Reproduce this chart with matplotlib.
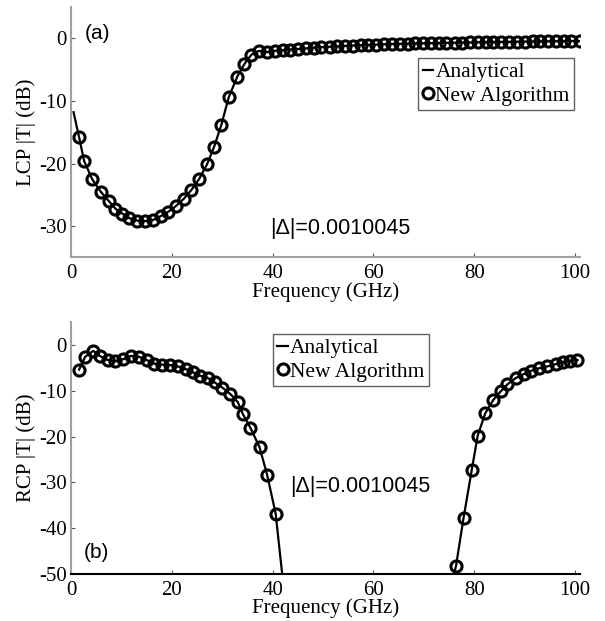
import matplotlib.pyplot as plt
import numpy as np

plt.rcParams['axes.unicode_minus'] = False

# (a) LCP |T| : marker positions (GHz) and values (dB)
lcp_f = [1.6, 2.6, 4.2, 5.9, 7.5, 8.8, 10.2, 11.5, 13.0, 14.7, 16.3, 17.8,
         19.3, 20.8, 22.4, 23.9, 25.4, 27.0, 28.4, 29.8, 31.3, 33.0, 34.4,
         35.8, 37.3, 38.9, 40.4, 42.0, 43.5, 45.1, 46.6, 48.2, 49.7, 51.3,
         52.8, 54.4, 55.9, 57.5, 59.0, 60.6, 62.1, 63.7, 65.2, 66.8, 68.3,
         69.9, 71.4, 73.0, 74.5, 76.1, 77.6, 79.2, 80.7, 82.3, 83.8, 85.4,
         86.9, 88.5, 90.0, 91.6, 93.1, 94.7, 96.2, 97.8, 99.3, 100.9]
lcp_db = [-15.8, -19.6, -22.5, -24.5, -26.0, -27.2, -28.0, -28.7, -29.1,
          -29.2, -29.0, -28.4, -27.7, -26.8, -25.6, -24.2, -22.5, -20.1,
          -17.3, -13.9, -9.4, -6.1, -4.1, -2.6, -2.0, -2.2, -2.0, -1.9, -1.8,
          -1.7, -1.6, -1.5, -1.4, -1.35, -1.3, -1.2, -1.15, -1.1, -1.05, -1.0,
          -0.95, -0.9, -0.88, -0.85, -0.82, -0.8, -0.77, -0.75, -0.72, -0.7,
          -0.68, -0.66, -0.64, -0.62, -0.6, -0.58, -0.56, -0.54, -0.52, -0.5,
          -0.48, -0.47, -0.46, -0.45, -0.44, -0.43]
lcp_line_f = [0.5] + lcp_f
lcp_line_db = [-11.8] + lcp_db

# (b) RCP |T| : two visible branches
rcp_f1 = [1.6, 2.8, 4.4, 5.7, 7.3, 8.7, 10.4, 11.9, 13.5, 15.0, 16.5, 18.0,
          19.6, 21.2, 22.8, 24.2, 25.5, 27.1, 28.5, 30.0, 31.6, 33.1, 34.1,
          35.6, 37.4, 38.9, 40.6]
rcp_db1 = [-5.4, -2.6, -1.3, -2.4, -3.3, -3.6, -3.1, -2.4, -2.6, -3.3, -4.1,
           -4.3, -4.4, -4.7, -5.3, -6.0, -6.7, -7.2, -8.2, -9.3, -10.7, -12.5,
           -15.1, -18.1, -22.3, -28.3, -36.8]
rcp_f2 = [76.4, 77.9, 79.5, 80.7, 82.2, 83.8, 85.3, 86.6, 88.3, 89.8, 91.2,
          92.9, 94.5, 96.2, 97.6, 99.1, 100.5]
rcp_db2 = [-48.2, -37.7, -27.4, -19.8, -14.9, -12.0, -10.1, -8.6, -7.2, -6.4,
           -5.7, -5.1, -4.7, -4.2, -3.8, -3.5, -3.3]
rcp_line_f = rcp_f1 + [41.9, np.nan, 76.0] + rcp_f2
rcp_line_db = rcp_db1 + [-50.0, np.nan, -50.0] + rcp_db2

serif = 'Liberation Serif'
sans = 'Liberation Sans'
gray = '#a0a0a0'

fig = plt.figure(figsize=(6.05, 6.21), dpi=100)
ax1 = fig.add_axes([0.1174, 0.5854, 0.8413, 0.4033])
ax2 = fig.add_axes([0.1174, 0.0757, 0.8413, 0.4058])


def style(ax, ylim, yticks, ylabel, bottom_color):
    ax.set_xlim(0, 101)
    ax.set_ylim(*ylim)
    ax.set_xticks([0, 20, 40, 60, 80, 100])
    ax.set_yticks(yticks)
    for s in ['top', 'right']:
        ax.spines[s].set_visible(False)
    ax.spines['left'].set_color(gray)
    ax.spines['bottom'].set_color(bottom_color)
    ax.spines['left'].set_linewidth(1.5)
    ax.spines['bottom'].set_linewidth(1.5)
    ax.tick_params(direction='in', length=3, width=0.8, color='#555555',
                   pad=3, labelsize=15)
    ax.tick_params(axis='x', pad=5)
    for lab in ax.get_xticklabels() + ax.get_yticklabels():
        lab.set_fontfamily(serif)
    ax.set_xlabel('Frequency (GHz)', family=serif, fontsize=15, labelpad=-1)
    ax.set_ylabel(ylabel, family=serif, fontsize=15, labelpad=2)


def legend(ax, anchor, loc):
    leg = ax.legend(loc=loc, bbox_to_anchor=anchor, bbox_transform=fig.transFigure,
                    prop={'family': serif, 'size': 15.5}, fancybox=False,
                    handlelength=0.5, handletextpad=0.1, labelspacing=0.15,
                    borderpad=0.2, borderaxespad=0, framealpha=1)
    leg.get_frame().set_edgecolor('#606060')
    leg.get_frame().set_linewidth(1.0)


ax1.plot(lcp_line_f, lcp_line_db, color='black', lw=1.6, label='Analytical')
ax1.plot(lcp_f, lcp_db, 'o', mfc='none', mec='black', mew=2.2, ms=8,
         label='New Algorithm')
style(ax1, (-35, 5), [-30, -20, -10, 0], 'LCP |T| (dB)', gray)
ax1.text(2.8, 0.7, '(a)', family=sans, fontsize=15, va='center')
ax1.text(39.6, -30.4, '|\u0394|=0.0010045', family=sans, fontsize=15.5, va='center')
legend(ax1, (0.949, 0.9066), 'upper right')

ax2.plot(rcp_line_f, rcp_line_db, color='black', lw=1.6, label='Analytical')
ax2.plot(rcp_f1 + rcp_f2, rcp_db1 + rcp_db2, 'o', mfc='none', mec='black',
         mew=2.2, ms=8, label='New Algorithm', clip_on=False)
style(ax2, (-50, 5), [-50, -40, -30, -20, -10, 0], 'RCP |T| (dB)', 'black')
ax2.text(2.6, -45.4, '(b)', family=sans, fontsize=15, va='center')
ax2.text(43.4, -31.0, '|\u0394|=0.0010045', family=sans, fontsize=15.5, va='center')
legend(ax2, (0.451, 0.4622), 'upper left')

plt.savefig('out.png', dpi=100)
